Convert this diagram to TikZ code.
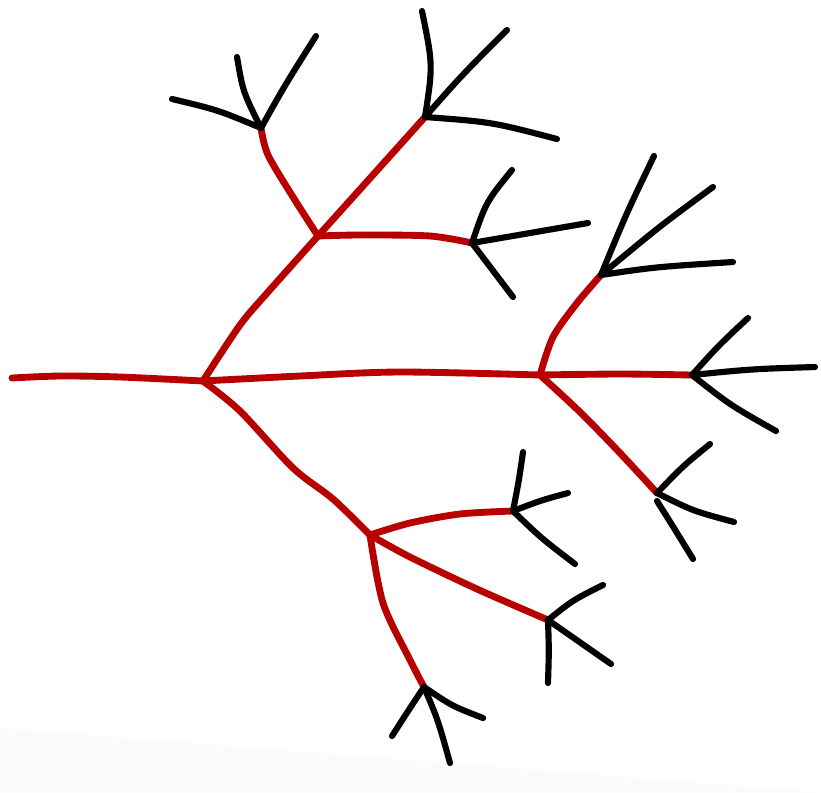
\documentclass[tikz,border=0pt]{standalone}
\usepackage{xcolor}
\definecolor{treered}{RGB}{184,0,0}
\definecolor{papergray}{RGB}{251,251,251}
\usetikzlibrary{calc}
\tikzset{
  branch/.style={treered,line width=3.9pt,line cap=round,line join=round},
  twig/.style={black,line width=3.5pt,line cap=round,line join=round},
}
\begin{document}
\begin{tikzpicture}[x=0.02cm,y=-0.02cm]
  \fill[white] (0,0) rectangle (821,792);
  \fill[papergray] (0,728) -- (818,792) -- (0,792) -- cycle;
  \useasboundingbox (0,0) rectangle (821,792);
  %% junctions and tips of the red tree
  \coordinate (start) at (12,378);
  \coordinate (root)  at (203,381);
  \coordinate (upper) at (318,236);
  \coordinate (fork)  at (540,375);
  \coordinate (lower) at (370,535);
  \coordinate (tipA)  at (261,128);
  \coordinate (tipC)  at (425,117);
  \coordinate (tipD)  at (472,243);
  \coordinate (tipE)  at (601,275);
  \coordinate (tipK)  at (692,375);
  \coordinate (tipF)  at (657,493);
  \coordinate (tipH)  at (513,511);
  \coordinate (tipI)  at (548,620);
  \coordinate (tipJ)  at (424,687);
  \coordinate (tipF2) at (657,501);
  %% red branches
  \draw[branch] plot[smooth] coordinates {(start) (60,376) (120,377) (root)};
  \draw[branch] plot[smooth] coordinates {(root) (300,376) (400,372) (fork)};
  \draw[branch] plot[smooth] coordinates {(fork) (620,374) (tipK)};
  \draw[branch] plot[smooth] coordinates {(root) (240,325) (268,292) (upper)};
  \draw[branch] plot[smooth] coordinates {(upper) (293,197) (268,155) (tipA)};
  \draw[branch] plot[smooth] coordinates {(upper) (372,176) (tipC)};
  \draw[branch] plot[smooth] coordinates {(upper) (360,235) (430,236) (tipD)};
  \draw[branch] plot[smooth] coordinates {(fork) (553,337) (577,303) (tipE)};
  \draw[branch] plot[smooth] coordinates {(fork) (580,412) (620,453) (tipF)};
  \draw[branch] plot[smooth] coordinates {(root) (240,411) (293,468) (333,499) (lower)};
  \draw[branch] plot[smooth] coordinates {(lower) (410,523) (460,514) (tipH)};
  \draw[branch] plot[smooth] coordinates {(lower) (410,557) (477,589) (tipI)};
  \draw[branch] plot[smooth] coordinates {(lower) (383,603) (410,660) (tipJ)};
  %% black twigs at the tips
  \draw[twig] (tipA) .. controls (243,92) .. (237,57) coordinate (a1);
  \draw[twig] (tipA) .. controls (285,85) .. (316,36) coordinate (a2);
  \draw[twig] (tipA) .. controls (218,110) .. (172,99) coordinate (a3);
  \draw[twig] (tipC) .. controls (433,65) .. (422,11) coordinate (c1);
  \draw[twig] (tipC) .. controls (462,75) .. (507,30) coordinate (c2);
  \draw[twig] (tipC) .. controls (492,122) .. (557,139) coordinate (c3);
  \draw[twig] (tipD) .. controls (486,202) .. (512,170) coordinate (d1);
  \draw[twig] (tipD) .. controls (530,233) .. (588,223) coordinate (d2);
  \draw[twig] (tipD) .. controls (492,270) .. (513,297) coordinate (d3);
  \draw[twig] (tipE) .. controls (627,212) .. (654,156) coordinate (e1);
  \draw[twig] (tipE) .. controls (660,226) .. (713,187) coordinate (e2);
  \draw[twig] (tipE) .. controls (655,267) .. (733,262) coordinate (e3);
  \draw[twig] (tipK) .. controls (719,345) .. (748,318) coordinate (k1);
  \draw[twig] (tipK) .. controls (752,369) .. (815,367) coordinate (k2);
  \draw[twig] (tipK) .. controls (730,405) .. (776,431) coordinate (k3);
  \draw[twig] (tipF) .. controls (683,466) .. (710,444) coordinate (f1);
  \draw[twig] (tipF) .. controls (693,511) .. (734,522) coordinate (f2);
  \draw[twig] (tipF2) .. controls (674,528) .. (693,559) coordinate (f3);
  \draw[twig] (tipH) .. controls (519,480) .. (523,452) coordinate (h1);
  \draw[twig] (tipH) .. controls (542,500) .. (568,493) coordinate (h2);
  \draw[twig] (tipH) .. controls (541,538) .. (575,564) coordinate (h3);
  \draw[twig] (tipI) .. controls (573,600) .. (603,585) coordinate (i1);
  \draw[twig] (tipI) .. controls (580,642) .. (611,664) coordinate (i2);
  \draw[twig] (tipI) .. controls (549,650) .. (548,683) coordinate (i3);
  \draw[twig] (tipJ) .. controls (452,706) .. (483,718) coordinate (j1);
  \draw[twig] (tipJ) .. controls (438,720) .. (450,763) coordinate (j2);
  \draw[twig] (tipJ) .. controls (410,708) .. (392,736) coordinate (j3);
\end{tikzpicture}
\end{document}
